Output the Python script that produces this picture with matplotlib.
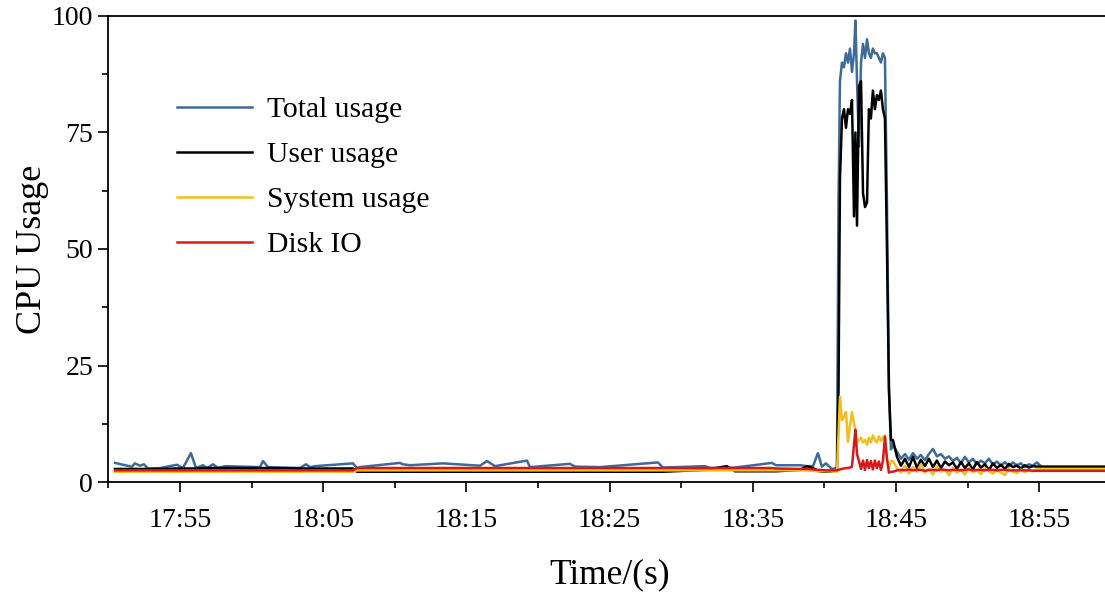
import numpy as np
import matplotlib
matplotlib.use("Agg")
import matplotlib.pyplot as plt
from matplotlib.ticker import FixedLocator

plt.rcParams['font.family'] = ['Liberation Serif', 'DejaVu Serif']

# time in minutes after 17:50
t_idle = [0.47, 1.17, 1.65, 1.86, 2.21, 2.49, 2.77, 3.61, 4.80, 5.21,
          5.77, 6.12, 6.61, 6.89, 7.31, 7.66, 8.15, 10.59, 10.80, 11.15,
          13.38, 13.80, 14.08, 14.43, 17.08, 17.36, 17.57, 20.36, 20.57, 21.06,
          23.37, 25.95, 26.44, 27.00, 29.23, 29.44, 32.23, 32.58, 34.33, 38.37,
          38.72, 41.66, 42.00, 43.19, 43.75, 46.33, 46.61, 48.29, 48.78, 49.20,
          49.54, 49.82, 50.10, 50.52]
t_burst = [50.87, 50.98, 51.08, 51.22, 51.36, 51.50, 51.64, 51.78, 51.92, 52.06,
           52.16, 52.27, 52.41, 52.55, 52.69, 52.83, 52.97, 53.10, 53.24, 53.38,
           53.52, 53.66, 53.80, 53.94, 54.08, 54.22, 54.36, 54.50, 54.64]
t_tail = [54.78, 55.06, 55.34, 55.62, 55.90, 56.18, 56.46, 56.73, 57.01, 57.29,
          57.57, 57.85, 58.13, 58.41, 58.69, 58.97, 59.25, 59.53, 59.80, 60.08,
          60.36, 60.64, 60.92, 61.20, 61.48, 61.76, 62.04, 62.32, 62.60, 62.87,
          63.15, 63.43, 63.71, 63.99, 64.27, 64.55, 64.83, 65.11]
t_end = [70.0]

total_idle = [4.1, 3.6, 3.3, 4.0, 3.5, 3.8, 2.9, 3.0, 3.7, 3.0,
              6.2, 3.0, 3.6, 3.0, 3.8, 3.0, 3.4, 3.2, 4.5, 3.2,
              3.0, 3.8, 3.2, 3.4, 4.0, 3.0, 3.2, 4.1, 3.8, 3.6,
              4.0, 3.5, 4.5, 3.4, 4.6, 3.2, 3.9, 3.3, 3.2, 4.2,
              3.1, 3.4, 3.0, 3.0, 3.1, 4.1, 3.6, 3.6, 3.4, 3.4,
              6.2, 3.3, 4.0, 2.8]
user_idle = [2.8, 2.8, 2.8, 2.8, 2.8, 2.8, 2.8, 2.8, 2.9, 2.9,
             2.9, 2.9, 3.0, 3.0, 3.0, 3.0, 3.0, 3.0, 3.0, 3.0,
             2.9, 2.9, 2.9, 2.9, 2.9, 2.2, 2.2, 2.2, 2.2, 2.2,
             2.2, 2.2, 2.2, 2.2, 2.2, 2.2, 2.2, 2.2, 2.2, 2.2,
             2.2, 2.6, 2.8, 3.4, 2.3, 2.3, 2.3, 2.6, 3.4, 3.0,
             2.4, 2.2, 2.2, 2.3]
system_idle = [2.2, 2.2, 2.2, 2.2, 2.2, 2.2, 2.2, 2.2, 2.2, 2.2,
               2.2, 2.2, 2.2, 2.2, 2.2, 2.2, 2.2, 2.2, 2.2, 2.2,
               2.2, 2.2, 2.2, 2.2, 2.2, 2.5, 2.5, 2.5, 2.5, 2.5,
               2.5, 2.5, 2.5, 2.5, 2.5, 2.5, 2.5, 2.5, 2.5, 2.5,
               2.5, 2.5, 2.5, 2.5, 2.5, 2.5, 2.5, 2.5, 2.5, 2.4,
               2.3, 2.3, 2.3, 2.3]
disk_idle = [2.5, 2.5, 2.5, 2.5, 2.5, 2.5, 2.5, 2.5, 2.5, 2.5,
             2.5, 2.5, 2.5, 2.5, 2.5, 2.5, 2.5, 2.5, 2.5, 2.5,
             2.5, 2.5, 2.5, 2.5, 2.5, 3.0, 3.0, 3.0, 3.0, 3.0,
             3.0, 3.0, 3.0, 3.0, 3.0, 3.0, 3.0, 3.0, 3.0, 3.0,
             3.0, 3.0, 3.0, 3.0, 3.0, 3.0, 2.9, 2.8, 2.8, 2.7,
             2.6, 2.6, 2.5, 2.5]

total_burst = [3.0, 60, 86, 90, 89, 92, 90, 93, 88, 92,
               99, 86, 72, 90, 94, 91, 95, 92, 91, 93,
               92, 92, 91, 90, 92, 91, 60, 20, 7]
user_burst = [2.5, 20, 65, 78, 80, 76, 80, 79, 82, 57,
              75, 55, 85, 86, 62, 59, 60, 80, 78, 84,
              80, 83, 82, 84, 80, 78, 50, 20, 9]
system_burst = [2.2, 10, 18.3, 13.3, 14, 15, 8.6, 12, 15, 12.7,
                11, 8.4, 9, 9.5, 8.5, 9, 8, 9.5, 8.5, 10,
                9, 8.5, 9.8, 8.8, 9.5, 10, 5, 3, 4.5]
disk_burst = [2.5, 2.6, 2.7, 2.8, 2.9, 3.0, 3.0, 3.1, 3.3, 8,
              11.2, 6, 4.5, 2.8, 4.6, 2.6, 4.7, 3, 4.5, 2.7,
              4.6, 3, 4.4, 2.6, 4.5, 9.7, 5, 2, 2.2]

total_tail = [8, 6.5, 5, 6, 4.8, 6.2, 5, 5.8, 4.7, 6,
              7.1, 5.5, 6, 5, 5.5, 4.5, 5.2, 4, 5.4, 4.2,
              5, 3.8, 4.6, 4, 5, 3.7, 4.4, 3.5, 4.3, 3.3,
              4.2, 3.6, 4, 3.2, 3.8, 3.5, 4.2, 3.4]
user_tail = [9, 5.4, 3.5, 5, 3.2, 5.4, 3, 4.8, 3.4, 5,
             3.2, 4.6, 3, 4.4, 3.6, 4.2, 2.8, 4.3, 3, 4,
             2.7, 4.3, 3.1, 3.8, 2.6, 4, 3, 3.7, 2.8, 3.9,
             3.2, 3.5, 2.9, 3.6, 3.1, 3.4, 3.3, 3.3]
system_tail = [4.5, 3, 2, 3.5, 1.8, 3.2, 2.2, 3.8, 2, 2.8,
               1.6, 3.4, 2.2, 2.6, 1.5, 3, 2, 2.7, 1.6, 3.1,
               2.1, 2.5, 1.7, 3, 2.3, 1.8, 2.6, 2, 1.5, 2.8,
               2.2, 1.9, 2.7, 2.1, 2.5, 2.3, 2.8, 2.8]
disk_tail = [2.2, 2.5, 2.6, 2.5, 2.7, 2.5, 2.6, 2.6, 2.4, 2.6,
             2.6, 2.5, 2.7, 2.6, 2.5, 2.6, 2.6, 2.5, 2.6, 2.7,
             2.5, 2.6, 2.6, 2.5, 2.6, 2.6, 2.5, 2.6, 2.6, 2.5,
             2.5, 2.5, 2.5, 2.5, 2.5, 2.4, 2.4, 2.4]

total_end = [np.nan]
user_end = [3.3]
system_end = [2.8]
disk_end = [2.4]

tick_minutes = [5, 15, 25, 35, 45, 55, 65]
tick_labels = ["17:55", "18:05", "18:15", "18:25", "18:35", "18:45", "18:55"]

t = np.array(t_idle + t_burst + t_tail + t_end)
total = np.array(total_idle + total_burst + total_tail + total_end, dtype=float)
user = np.array(user_idle + user_burst + user_tail + user_end, dtype=float)
system = np.array(system_idle + system_burst + system_tail + system_end, dtype=float)
disk = np.array(disk_idle + disk_burst + disk_tail + disk_end, dtype=float)

fig = plt.figure(figsize=(11.05, 5.92), dpi=100)
ax = fig.add_axes([0.098, 0.1858, 0.9074, 0.7872])

lw = 1.8
ax.plot(t, total, color="#3d6a98", lw=lw, label="Total usage")
ax.plot(t, user, color="black", lw=lw, label="User usage")
ax.plot(t, system, color="#f5bd1f", lw=lw, label="System usage")
ax.plot(t, disk, color="#d7191c", lw=lw, label="Disk IO")

ax.set_xlim(0, 70)
ax.set_ylim(0, 100)
ax.xaxis.set_major_locator(FixedLocator(tick_minutes))
ax.set_xticklabels(tick_labels)
ax.xaxis.set_minor_locator(FixedLocator([0, 10, 20, 30, 40, 50, 60, 70]))
ax.set_yticks([0, 25, 50, 75, 100])
ax.yaxis.set_minor_locator(FixedLocator([12.5, 37.5, 62.5, 87.5]))

for s in ax.spines.values():
    s.set_linewidth(1.3)
ax.spines['right'].set_visible(False)
ax.tick_params(which='major', length=7, width=1.2, labelsize=20, pad=4)
ax.tick_params(which='minor', length=4, width=1.2)
ax.tick_params(axis='x', which='major', pad=12)

ax.set_xlabel("Time/(s)", fontsize=25.5, labelpad=18)
ax.set_ylabel("CPU Usage", fontsize=26, labelpad=2)

ax.legend(loc="upper left", bbox_to_anchor=(0.0685, 0.827), frameon=False,
          fontsize=21.3, handlelength=2.55, handletextpad=0.5,
          labelspacing=0.62, borderpad=0, borderaxespad=0)

fig.savefig("out.png", dpi=100)
